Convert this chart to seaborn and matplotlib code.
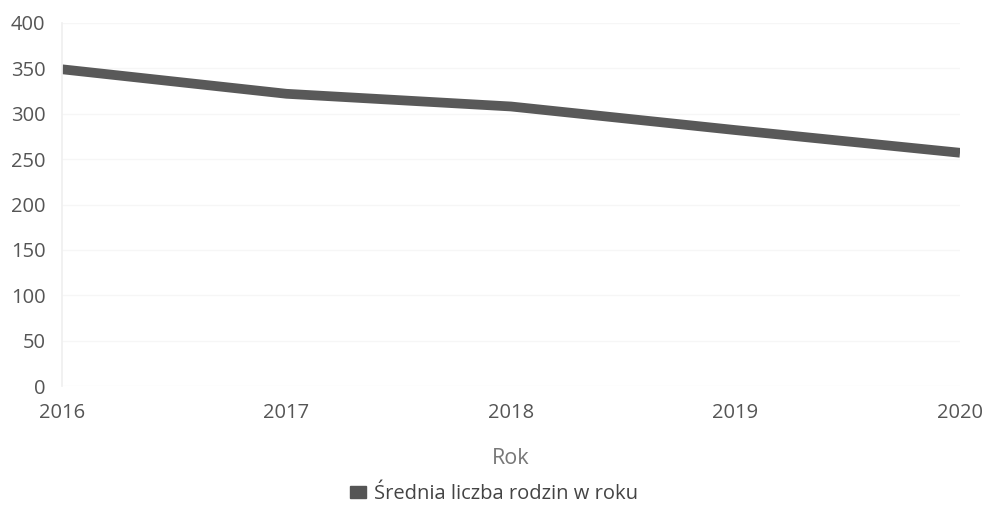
import pandas as pd
import seaborn as sns
import matplotlib.pyplot as plt
from matplotlib.patches import Patch

sns.set_theme(style='white')
plt.rcParams['font.family'] = ['Open Sans', 'DejaVu Sans']

years = [2016, 2017, 2018, 2019, 2020]
families = [349, 322, 308, 282, 257]
series_name = 'Średnia liczba rodzin w roku'

df = pd.DataFrame({'Rok': years, 'value': families})

f, ax = plt.subplots(figsize=(9.88, 5.18), dpi=100)
f.subplots_adjust(left=62/988, right=960/988, bottom=1-386/518, top=1-23/518)

sns.lineplot(data=df, x='Rok', y='value', color='#595959', linewidth=7,
             solid_capstyle='butt', ax=ax)

ax.set_xlim(2016, 2020)
ax.set_ylim(0, 400)
ax.set_yticks(range(0, 401, 50))
ax.set_xticks(years)
ax.grid(axis='y', color='#f6f6f6', linewidth=1)
for s in ['top', 'right', 'bottom']:
    ax.spines[s].set_visible(False)
ax.spines['left'].set_color('#f0f0f0')

ax.tick_params(axis='both', colors='#555555', labelsize=14.5, length=0)
ax.tick_params(axis='y', pad=12)
ax.tick_params(axis='x', pad=12)
ax.set_ylabel('')
ax.set_xlabel('Rok', color='#777777', fontsize=15.5, labelpad=18)

ax.legend(handles=[Patch(color='#555555', label=series_name)],
          loc='center', bbox_to_anchor=(0.5, 1 - 494/518), bbox_transform=f.transFigure,
          frameon=False, fontsize=14.5, handlelength=0.8, handleheight=0.5,
          handletextpad=0.4, labelcolor='#444444')

plt.savefig('out.png', dpi=100)
